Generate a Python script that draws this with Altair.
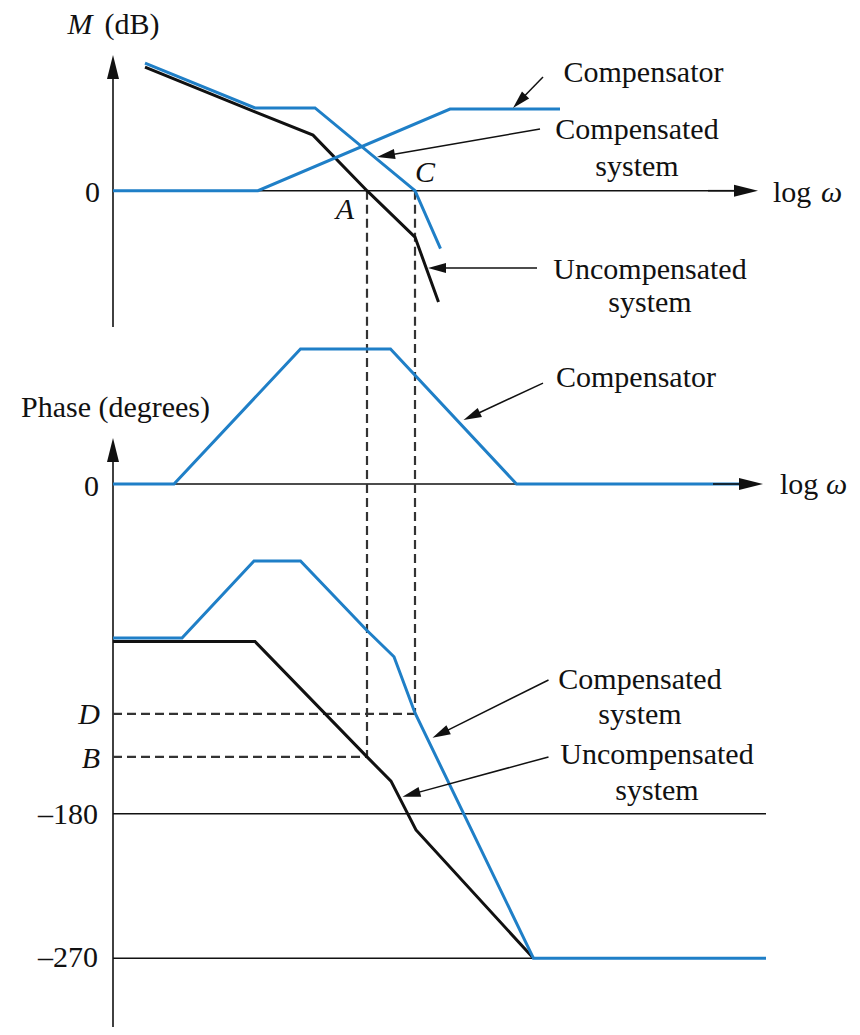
import math
import altair as alt
import pandas as pd

BLUE = "#1f7fc7"
INK = "#111111"
FONT = "Liberation Serif"
FS = 30

# ---------------- data (x = log ω in arbitrary units, 0 at the vertical axis)
# Magnitude panel, M in dB
mag_comp_x = [0.64, 2.84, 4.04, 6.04, 6.55]
mag_comp_y = [31.9, 20.7, 20.7, 0.0, -14.5]
mag_unc_x = [0.64, 2.84, 4.00, 5.08, 6.04, 6.51]
mag_unc_y = [30.9, 19.7, 13.9, 0.0, -11.6, -27.8]
mag_lead_x = [0.0, 2.90, 6.74, 8.94]
mag_lead_y = [0.0, 0.0, 20.4, 20.4]

# Phase panel, degrees
ph_lead_x = [0.0, 1.22, 3.75, 5.55, 8.07, 12.54]
ph_lead_y = [0.0, 0.0, 73.7, 73.7, 0.0, 0.0]
ph_comp_x = [0.0, 1.38, 2.82, 3.75, 5.07, 5.62, 6.04, 8.41, 13.06]
ph_comp_y = [-84.1, -84.1, -42.0, -42.0, -79.7, -94.3, -125.0, -270.0, -270.0]
ph_unc_x = [0.0, 2.84, 5.08, 5.56, 6.06, 8.41]
ph_unc_y = [-86.0, -86.0, -149.0, -162.2, -190.1, -270.0]

A_X, C_X = 5.08, 6.04          # gain crossovers
B_PH, D_PH = -149.0, -125.5    # phase at crossovers
X_END_MAG, X_END_PH, X_END_REF = 12.9, 13.0, 13.06
MAG_AXIS = [-34.1, 33.9]
PH_AXIS = [-312.75, 25.1]

# ---------------- scales
W = 844
H_TOP, H_BOT = 322, 697
X_DOM = [-2.1, 14.78]
MAG_DOM = [-34.825, 45.675]
PH_DOM = [-312.75, -270, -180, 0, 84.06]
PH_RANGE = [697, 628.3, 483.7, 154, 0]

XS = alt.Scale(domain=X_DOM, nice=False, zero=False)
MS = alt.Scale(domain=MAG_DOM, nice=False, zero=False)
PS = alt.Scale(domain=PH_DOM, range=PH_RANGE, nice=False, zero=False)

PX_X = W / (X_DOM[1] - X_DOM[0])
PX_M = H_TOP / (MAG_DOM[1] - MAG_DOM[0])
PX_P = (PH_RANGE[2] - PH_RANGE[3]) / 180.0

ANN_HEAD = "M0,0L1,3.6L-1,3.6Z"   # scaled by sqrt(size)/2
AX_HEAD = "M0,0L1,4L-1,4Z"


def enc(yscale):
    return dict(x=alt.X("x:Q", scale=XS, axis=None),
                y=alt.Y("y:Q", scale=yscale, axis=None))


def line(xs, ys, yscale, color=INK, width=3.0, dash=None):
    df = pd.DataFrame({"x": xs, "y": ys, "i": list(range(len(xs)))})
    kw = dict(color=color, strokeWidth=width, strokeCap="butt", strokeJoin="miter")
    if dash:
        kw["strokeDash"] = dash
    return alt.Chart(df).mark_line(**kw).encode(order="i:Q", **enc(yscale))


def arrow(x0, y0, x1, y1, yscale, ypx, head=ANN_HEAD, size=100, head_len=18, width=1.5):
    dxp = (x1 - x0) * PX_X
    dyp = -(y1 - y0) * ypx
    L = math.hypot(dxp, dyp)
    ang = math.degrees(math.atan2(dxp, -dyp)) % 360
    k = max(L - head_len * 0.8, 0) / L
    xe, ye = x0 + (x1 - x0) * k, y0 + (y1 - y0) * k
    shaft = line([x0, xe], [y0, ye], yscale, INK, width)
    hd = pd.DataFrame({"x": [x1], "y": [y1], "a": [ang]})
    tip = alt.Chart(hd).mark_point(shape=head, filled=True, size=size, color=INK,
                                   opacity=1, strokeWidth=0).encode(
        angle=alt.Angle("a:Q", scale=None), **enc(yscale))
    return [shaft, tip]


def texts(rows, yscale, align="center", italic=False):
    df = pd.DataFrame(rows, columns=["x", "y", "t"])
    return alt.Chart(df).mark_text(font=FONT, fontSize=FS, align=align, baseline="middle",
                                   fontStyle="italic" if italic else "normal",
                                   color=INK).encode(text="t:N", **enc(yscale))


DASH = [9, 5]
DCOL = "#333333"
DW = 2.2

# ---------------- magnitude panel
top_layers = [
    line([0, X_END_MAG - 0.3], [0, 0], MS, INK, 1.6),
    line([0, 0], [MAG_AXIS[0], MAG_AXIS[1] - 4], MS, INK, 1.6),
    line([A_X, A_X], [0, MAG_DOM[0]], MS, DCOL, DW, DASH),
    line([C_X, C_X], [0, MAG_DOM[0]], MS, DCOL, DW, DASH),
    line(mag_unc_x, mag_unc_y, MS, INK, 3),
    line(mag_lead_x, mag_lead_y, MS, BLUE, 3),
    line(mag_comp_x, mag_comp_y, MS, BLUE, 3),
]
top_layers += arrow(X_END_MAG - 1, 0, X_END_MAG, 0, MS, PX_M, AX_HEAD, 144, 24, 1.6)
top_layers += arrow(0, MAG_AXIS[1] - 5, 0, MAG_AXIS[1], MS, PX_M, AX_HEAD, 144, 24, 1.6)
top_layers += arrow(8.6, 28.4, 8.0, 20.7, MS, PX_M)
top_layers += arrow(8.54, 15.4, 5.28, 8.4, MS, PX_M)
top_layers += arrow(8.48, -19.3, 6.30, -19.3, MS, PX_M)
top_layers += [
    texts([(-0.66, 41.4, "M"), (4.64, -4.8, "A"), (6.24, 4.4, "C")], MS, "center", True),
    texts([(0.38, 41.4, "(dB)"),
           (10.61, 29.4, "Compensator"),
           (10.48, 15.2, "Compensated"), (10.48, 5.9, "system"),
           (10.74, -19.8, "Uncompensated"), (10.74, -28.1, "system")], MS, "center"),
    texts([(-0.26, -0.6, "0")], MS, "right"),
    texts([(13.2, -0.6, "log")], MS, "left"),
    texts([(14.16, -0.6, "ω")], MS, "left", True),
]
top = alt.layer(*top_layers).properties(width=W, height=H_TOP)

# ---------------- phase panel
bot_layers = [
    line([0, X_END_PH - 0.3], [0, 0], PS, INK, 1.6),
    line([0, 0], [PH_AXIS[0], PH_AXIS[1] - 8], PS, INK, 1.6),
    line([0, X_END_REF], [-180, -180], PS, INK, 1.6),
    line([0, X_END_REF], [-270, -270], PS, INK, 1.6),
    line([A_X, A_X], [PH_DOM[-1], B_PH], PS, DCOL, DW, DASH),
    line([C_X, C_X], [PH_DOM[-1], D_PH], PS, DCOL, DW, DASH),
    line([0, A_X], [B_PH, B_PH], PS, DCOL, DW, DASH),
    line([0, C_X], [D_PH, D_PH], PS, DCOL, DW, DASH),
    line(ph_unc_x, ph_unc_y, PS, INK, 3),
    line(ph_comp_x, ph_comp_y, PS, BLUE, 3),
    line(ph_lead_x, ph_lead_y, PS, BLUE, 3),
]
bot_layers += arrow(X_END_PH - 1, 0, X_END_PH, 0, PS, PX_P, AX_HEAD, 144, 24, 1.6)
bot_layers += arrow(0, PH_AXIS[1] - 10, 0, PH_AXIS[1], PS, PX_P, AX_HEAD, 144, 24, 1.6)
bot_layers += arrow(8.60, 55.1, 7.01, 34.9, PS, PX_P)
bot_layers += arrow(8.71, -107.0, 6.39, -138.6, PS, PX_P)
bot_layers += arrow(8.71, -149.0, 5.79, -170.7, PS, PX_P)
bot_layers += [
    texts([(0.05, 41.5, "Phase (degrees)"),
           (10.46, 57.9, "Compensator"),
           (10.54, -107.0, "Compensated"), (10.54, -126.1, "system"),
           (10.88, -147.9, "Uncompensated"), (10.88, -167.4, "system")], PS, "center"),
    texts([(-0.28, -1.5, "0"), (-0.30, -180.8, "–180"), (-0.30, -270.0, "–270")], PS, "right"),
    texts([(-0.26, -126.1, "D"), (-0.26, -150.1, "B")], PS, "right", True),
    texts([(13.34, -0.5, "log")], PS, "left"),
    texts([(14.26, -0.5, "ω")], PS, "left", True),
]
bot = alt.layer(*bot_layers).properties(width=W, height=H_BOT)

chart = (
    alt.vconcat(top, bot, spacing=0, bounds="flush")
    .resolve_scale(x="independent", y="independent")
    .properties(padding=0, background="white")
    .configure_view(stroke=None)
)

chart.save("out.html", embed_options={"renderer": "svg", "actions": False})
